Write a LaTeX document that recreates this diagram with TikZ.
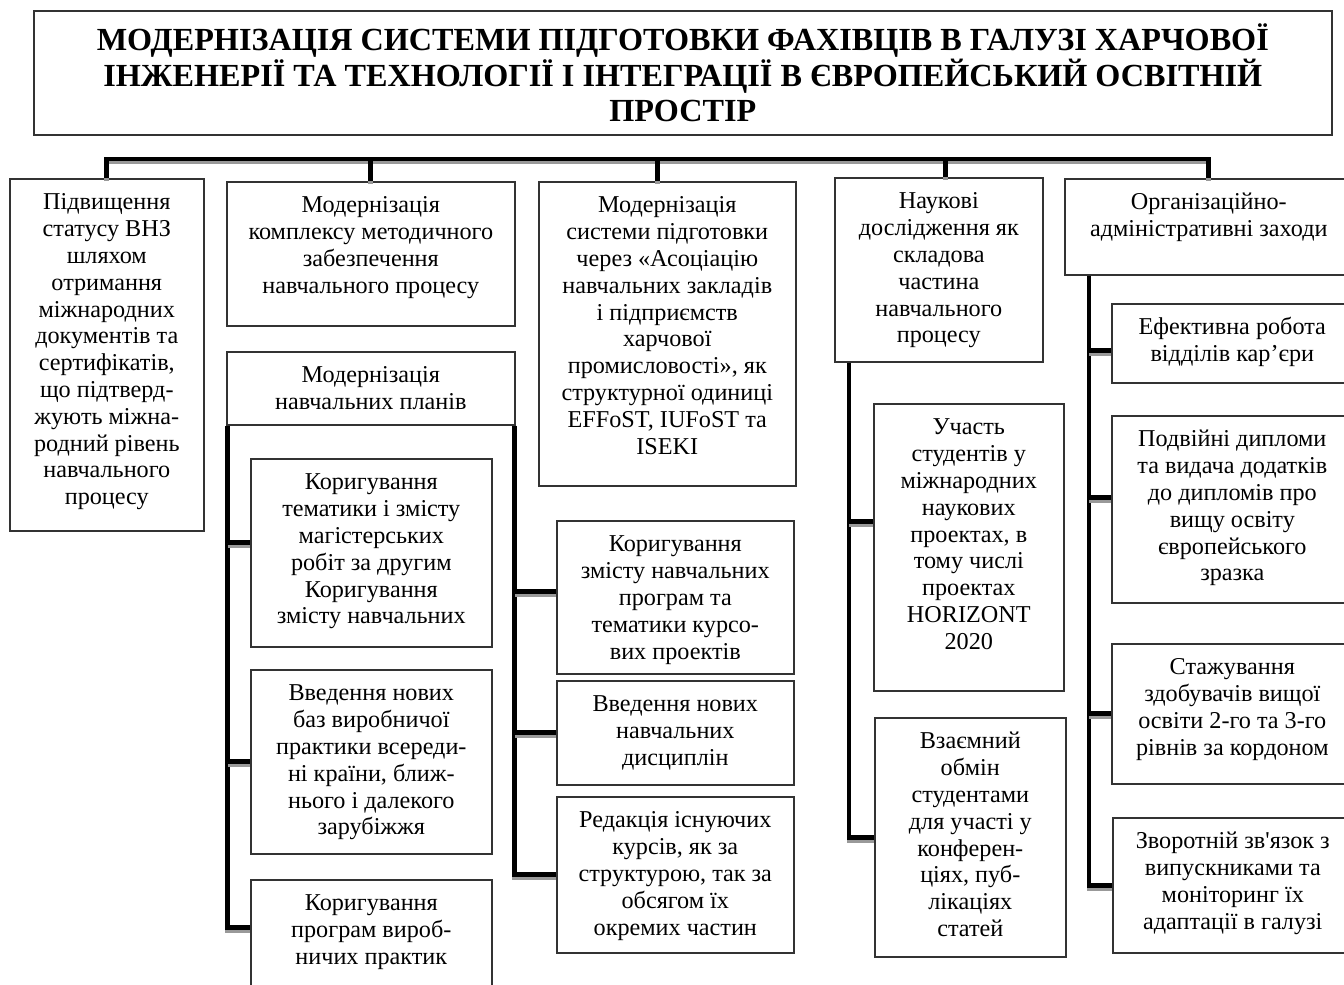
\documentclass[tikz,border=0pt]{standalone}
\usepackage{fontspec}
\setmainfont{Liberation Serif}
\usetikzlibrary{positioning}

% box text: width, height, lines (top aligned like a text box)
\newcommand{\blktext}[3]{\parbox[c][#2][t]{#1}{\hbox{}\vspace{2.1pt}\centering #3\par}}

\begin{document}
\begin{tikzpicture}[
    x=0.5pt, y=-0.5pt,
    blk/.style={draw=black!80, line width=0.8pt, anchor=north west, inner sep=0pt, font=\fontsize{12.1}{13.4}\selectfont},
    headbox/.style={draw=black!80, line width=0.8pt, anchor=north west, inner sep=0pt, font=\fontsize{16.1}{17.8}\selectfont\bfseries},
    conn/.style={line width=2.4pt, line join=miter, preaction={draw=black!40, line width=2.4pt, transform canvas={yshift=-1.5pt}}}
]
\path[fill=white, use as bounding box] (0,0) rectangle (1344,985);

% Header
\node[headbox] (head) at (33,10) {\parbox[c][62pt][t]{649pt}{\hbox{}\vspace{2.2pt}\centering
  МОДЕРНІЗАЦІЯ СИСТЕМИ ПІДГОТОВКИ ФАХІВЦІВ В ГАЛУЗІ ХАРЧОВОЇ\\
  ІНЖЕНЕРІЇ ТА ТЕХНОЛОГІЇ І ІНТЕГРАЦІЇ В ЄВРОПЕЙСЬКИЙ ОСВІТНІЙ\\
  ПРОСТІР\par}};

% Top level
\node[blk] (b1) at (9,178) {\blktext{97pt}{176pt}{Підвищення\\статусу ВНЗ\\шляхом\\отримання\\міжнародних\\документів та\\сертифікатів,\\що підтверд-\\жують міжна-\\родний рівень\\навчального\\процесу}};
\node[blk] (b2) at (226,181) {\blktext{144pt}{72pt}{Модернізація\\комплексу методичного\\забезпечення\\навчального процесу}};
\node[blk] (b3) at (538,181) {\blktext{128.5pt}{152pt}{Модернізація\\системи підготовки\\через «Асоціацію\\навчальних закладів\\і підприємств\\харчової\\промисловості», як\\структурної одиниці\\EFFoST, IUFoST та\\ISEKI}};
\node[blk] (b4) at (834,177) {\blktext{104pt}{92pt}{Наукові\\дослідження як\\складова\\частина\\навчального\\процесу}};
\node[blk] (b5) at (1064,178) {\blktext{144pt}{48pt}{Організаційно-\\адміністративні заходи}};

% Curricula
\node[blk] (plans) at (226,351) {\blktext{144pt}{36.5pt}{Модернізація\\навчальних планів}};
\node[blk] (k1) at (250,458) {\blktext{120.5pt}{94pt}{Коригування\\тематики і змісту\\магістерських\\робіт за другим\\Коригування\\змісту навчальних}};
\node[blk] (k2) at (250,669) {\blktext{120.5pt}{92pt}{Введення нових\\баз виробничої\\практики всереди-\\ні країни, ближ-\\нього і далекого\\зарубіжжя}};
\node[blk] (k3) at (250,879) {\blktext{120.5pt}{60pt}{Коригування\\програм вироб-\\ничих практик}};
\node[blk] (c1) at (556,520) {\blktext{118.5pt}{76.5pt}{Коригування\\змісту навчальних\\програм та\\тематики курсо-\\вих проектів}};
\node[blk] (c2) at (556,680) {\blktext{118.5pt}{52pt}{Введення нових\\навчальних\\дисциплін}};
\node[blk] (c3) at (556,796) {\blktext{118.5pt}{78pt}{Редакція існуючих\\курсів, як за\\структурою, так за\\обсягом їх\\окремих частин}};

% Research
\node[blk] (u1) at (873,403) {\blktext{95pt}{143.5pt}{Участь\\студентів у\\міжнародних\\наукових\\проектах, в\\тому числі\\проектах\\HORIZONT\\2020}};
\node[blk] (u2) at (874,717) {\blktext{95.5pt}{119.5pt}{Взаємний\\обмін\\студентами\\для участі у\\конферен-\\ціях, пуб-\\лікаціях\\статей}};

% Organisation
\node[blk] (o1) at (1111,303) {\blktext{120.5pt}{39.5pt}{Ефективна робота\\відділів кар’єри}};
\node[blk] (o2) at (1111,415) {\blktext{120.5pt}{93.5pt}{Подвійні дипломи\\та видача додатків\\до дипломів про\\вищу освіту\\європейського\\зразка}};
\node[blk] (o3) at (1111,643) {\blktext{120.5pt}{70pt}{Стажування\\здобувачів вищої\\освіти 2-го та 3-го\\рівнів за кордоном}};
\node[blk] (o4) at (1112,817) {\blktext{120pt}{67.5pt}{Зворотній зв\textquotesingle язок з\\випускниками та\\моніторинг їх\\адаптації в галузі}};

% Bus
\coordinate (bus) at (0,159);
\coordinate (d3) at ([xshift=-4.75pt]b3.north);
\coordinate (d4) at ([xshift=3.5pt]b4.north);
\draw[conn] (b1.north) -- (b1.north |- bus) -| (b5.north);
\draw[conn] (b2.north |- bus) -- (b2.north);
\draw[conn] (d3 |- bus) -- (d3);
\draw[conn] (d4 |- bus) -- (d4);

% Curricula brackets
\coordinate (trL) at ([xshift=0.75pt]plans.south west);
\coordinate (trR) at ([xshift=-0.5pt]plans.south east);
\coordinate (k1b) at ([yshift=5pt]k1.west);
\coordinate (k3b) at ([yshift=6pt]k3.west);
\coordinate (c1b) at ([yshift=3pt]c1.west);
\draw[conn] (trL) |- (k3b);
\draw[conn] (trL |- k1b) -- (k1b);
\draw[conn] (trL |- k2.west) -- (k2.west);
\draw[conn] (trR) |- (c3.west);
\draw[conn] (trR |- c1b) -- (c1b);
\draw[conn] (trR |- c2.west) -- (c2.west);

% Research branch
\coordinate (tr4) at ([xshift=7.5pt]b4.south west);
\coordinate (u1b) at ([yshift=13pt]u1.west);
\draw[conn] (tr4) |- (u2.west);
\draw[conn] (tr4 |- u1b) -- (u1b);

% Organisation branch
\coordinate (tr5) at ([xshift=12.5pt]b5.south west);
\coordinate (o1b) at ([yshift=-3.75pt]o1.west);
\coordinate (o2b) at ([yshift=5.75pt]o2.west);
\draw[conn] (tr5) |- (o4.west);
\draw[conn] (tr5 |- o1b) -- (o1b);
\draw[conn] (tr5 |- o2b) -- (o2b);
\draw[conn] (tr5 |- o3.west) -- (o3.west);
\end{tikzpicture}
\end{document}
